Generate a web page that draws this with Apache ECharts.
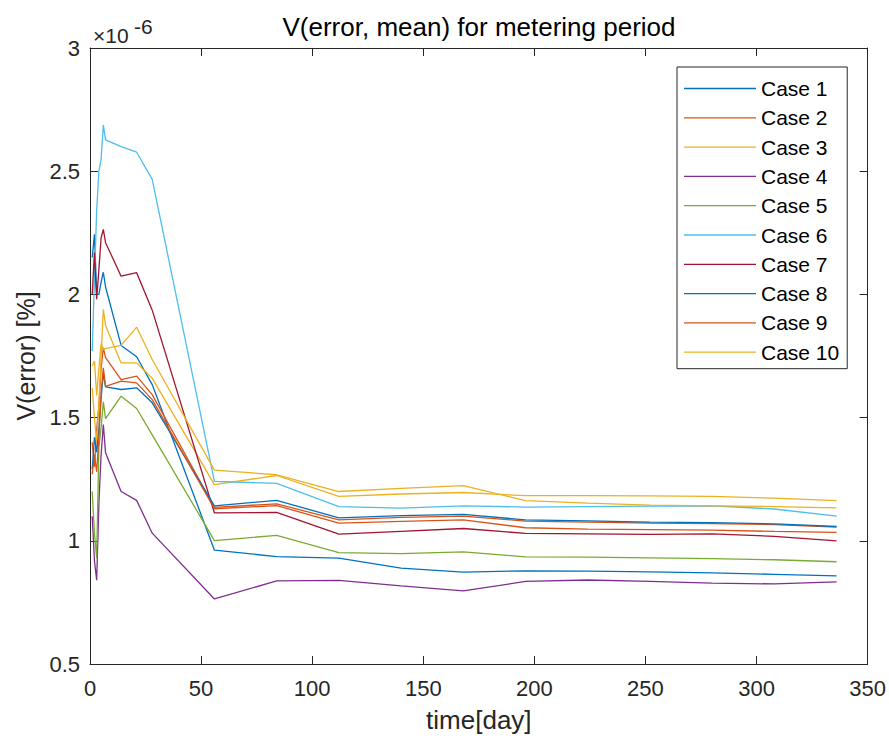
<!DOCTYPE html>
<html><head><meta charset="utf-8">
<script src="https://cdn.jsdelivr.net/npm/echarts@6/dist/echarts.min.js"></script>
<style>html,body{margin:0;padding:0;background:#fff}#c{width:889px;height:753px}</style>
</head><body><div id="c"></div>
<script>
// Values are in units of 1e-6 (axis shows "×10^-6")
const days = [1, 2, 3, 4, 5, 6, 7, 14, 21, 28, 56, 84, 112, 140, 168, 196, 224, 252, 280, 308, 336];
const case1  = [2.15, 2.244, 2.00, 2.00, 2.05, 2.09, 2.03, 1.793, 1.747, 1.634, 0.962, 0.936, 0.930, 0.889, 0.873, 0.878, 0.877, 0.874, 0.870, 0.864, 0.858];
const case2  = [1.40, 1.30, 1.45, 1.55, 1.70, 1.783, 1.743, 1.654, 1.668, 1.593, 1.136, 1.150, 1.085, 1.095, 1.100, 1.080, 1.076, 1.072, 1.070, 1.066, 1.056];
const case3  = [1.62, 1.50, 1.40, 1.55, 1.75, 1.939, 1.874, 1.722, 1.722, 1.66, 1.228, 1.265, 1.180, 1.190, 1.196, 1.183, 1.183, 1.182, 1.180, 1.173, 1.163];
const case4  = [1.10, 0.92, 0.84, 1.15, 1.35, 1.472, 1.357, 1.200, 1.164, 1.031, 0.764, 0.837, 0.839, 0.817, 0.797, 0.835, 0.841, 0.835, 0.828, 0.825, 0.833];
const case5  = [1.20, 1.03, 0.93, 1.38, 1.46, 1.564, 1.496, 1.587, 1.537, 1.43, 1.001, 1.022, 0.952, 0.948, 0.955, 0.935, 0.934, 0.931, 0.928, 0.923, 0.915];
const case6  = [1.77, 2.06, 2.34, 2.50, 2.55, 2.687, 2.627, 2.60, 2.577, 2.467, 1.241, 1.233, 1.139, 1.133, 1.142, 1.137, 1.139, 1.141, 1.142, 1.129, 1.100];
const case7  = [2.00, 2.17, 1.98, 2.10, 2.23, 2.264, 2.21, 2.074, 2.088, 1.936, 1.113, 1.115, 1.027, 1.038, 1.050, 1.030, 1.028, 1.026, 1.028, 1.018, 1.000];
const case8  = [1.29, 1.42, 1.36, 1.45, 1.58, 1.679, 1.625, 1.614, 1.621, 1.56, 1.142, 1.164, 1.093, 1.102, 1.107, 1.085, 1.081, 1.076, 1.074, 1.069, 1.058];
const case9  = [1.27, 1.35, 1.28, 1.42, 1.60, 1.702, 1.627, 1.648, 1.641, 1.573, 1.130, 1.143, 1.072, 1.079, 1.085, 1.053, 1.047, 1.045, 1.043, 1.038, 1.034];
const case10 = [1.71, 1.73, 1.59, 1.70, 1.80, 1.776, 1.78, 1.793, 1.867, 1.736, 1.287, 1.268, 1.200, 1.213, 1.224, 1.163, 1.153, 1.145, 1.142, 1.139, 1.134];
const seriesNames = ['Case 1','Case 2','Case 3','Case 4','Case 5','Case 6','Case 7','Case 8','Case 9','Case 10'];
const seriesValues = [case1, case2, case3, case4, case5, case6, case7, case8, case9, case10];
const colors = ['#0072BD','#D95319','#EDB120','#7E2F8E','#77AC30','#4DBEEE','#A2142F','#0072BD','#D95319','#EDB120'];
const titleText = 'V(error, mean) for metering period';
const xName = 'time[day]';
const yName = 'V(error) [%]';

const FONT = '"Liberation Sans", Arial, Helvetica, sans-serif';
const AX = '#262626';
const chart = echarts.init(document.getElementById('c'), null, {renderer: 'svg'});

function xAx(top) {
  return {
    type: 'value', min: 0, max: 350, interval: 50, position: top ? 'top' : 'bottom',
    axisLine: {show: true, onZero: false, lineStyle: {color: AX, width: 1}},
    axisTick: {show: true, inside: true, length: 8, lineStyle: {color: AX, width: 1}},
    axisLabel: {show: !top, fontSize: 22, color: AX, margin: 13, fontFamily: FONT},
    splitLine: {show: false},
    name: top ? '' : xName, nameLocation: 'middle', nameGap: 43,
    nameTextStyle: {fontSize: 26, color: AX, fontFamily: FONT}
  };
}
function yAx(right) {
  return {
    type: 'value', min: 0.5, max: 3, interval: 0.5, position: right ? 'right' : 'left',
    axisLine: {show: true, onZero: false, lineStyle: {color: AX, width: 1}},
    axisTick: {show: true, inside: true, length: 8, lineStyle: {color: AX, width: 1}},
    axisLabel: {show: !right, fontSize: 22, color: AX, margin: 10, fontFamily: FONT},
    splitLine: {show: false},
    name: right ? '' : yName, nameLocation: 'middle', nameGap: 51, nameRotate: 90,
    nameTextStyle: {fontSize: 25, color: AX, fontFamily: FONT}
  };
}

const option = {
  animation: false,
  color: colors,
  textStyle: {fontFamily: FONT},
  grid: {left: 90, right: 20, top: 48, bottom: 89},
  xAxis: [xAx(false), xAx(true)],
  yAxis: [yAx(false), yAx(true)],
  legend: {
    orient: 'vertical', left: 677, top: 67,
    padding: [11, 8, 6, 7],
    itemWidth: 72, itemHeight: 14, itemGap: 8.3,
    icon: 'path://M0,0H72V1.3H0Z', symbolKeepAspect: true,
    backgroundColor: '#fff', borderColor: AX, borderWidth: 1,
    textStyle: {fontSize: 21, color: '#000', fontFamily: FONT},
    data: seriesNames
  },
  graphic: [
    {type: 'text', x: 479, y: 27, style: {text: titleText, font: '26px ' + FONT, fill: '#000', textAlign: 'center', textVerticalAlign: 'middle'}},
    {type: 'text', x: 93, y: 35, style: {text: '×10', font: '21px ' + FONT, fill: AX, textAlign: 'left', textVerticalAlign: 'middle'}},
    {type: 'text', x: 134, y: 26, style: {text: '-6', font: '21px ' + FONT, fill: AX, textAlign: 'left', textVerticalAlign: 'middle'}}
  ],
  series: seriesNames.map((n, i) => ({
    name: n, type: 'line', symbol: 'none', showSymbol: false,
    lineStyle: {width: 1.3, color: colors[i]}, itemStyle: {color: colors[i]},
    data: days.map((d, k) => [d, seriesValues[i][k]])
  }))
};
chart.setOption(option);
</script></body></html>
